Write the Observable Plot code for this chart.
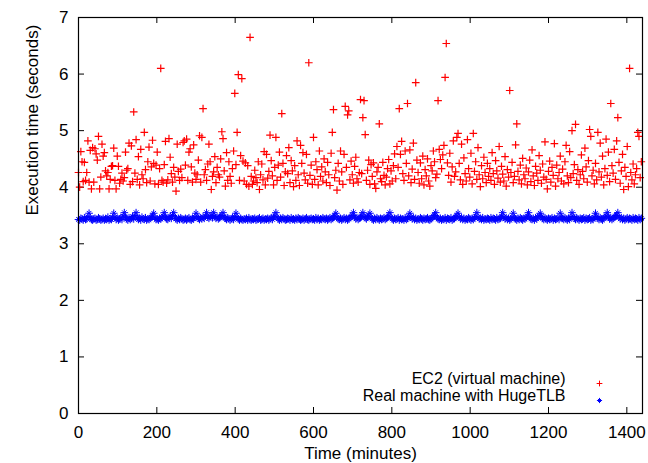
<!DOCTYPE html>
<html>
<head>
<meta charset="utf-8">
<script src="https://cdn.jsdelivr.net/npm/d3@7"></script>
<script src="https://cdn.jsdelivr.net/npm/@observablehq/plot@0.6"></script>
<style>
  html, body { margin: 0; padding: 0; background: #fff; }
  #chart svg { display: block; font-family: "Liberation Sans", Arial, sans-serif; }
</style>
</head>
<body>
<div id="chart"></div>
<script>
// Measurement schedule: one run every 3 minutes over 24 hours
const sampleIntervalMin = 3;
const xTicks = [0, 200, 400, 600, 800, 1000, 1200, 1400];
const yTicks = [0, 1, 2, 3, 4, 5, 6, 7];
const seriesNames = ["EC2 (virtual machine)", "Real machine with HugeTLB"];
const xLabel = "Time (minutes)";
const yLabel = "Execution time (seconds)";

// EC2 (virtual machine) execution times (seconds)
const ec2Times = [
  4.26,4.00,4.63,4.45,4.10,4.44,4.12,4.26,4.82,4.09,
  4.65,3.97,4.70,4.09,4.68,4.59,4.48,4.90,3.97,4.18,
  4.76,4.55,4.61,4.29,4.20,4.26,3.97,4.14,4.37,4.38,
  4.69,4.12,3.97,4.55,4.37,4.07,4.14,4.25,4.11,4.17,
  4.62,4.30,4.33,4.78,4.05,4.73,4.10,5.33,4.25,4.84,
  4.14,4.54,4.04,4.67,4.22,4.15,4.97,4.31,4.08,4.45,
  4.71,4.11,4.36,4.83,4.42,4.06,4.39,4.62,4.05,4.33,
  6.10,4.12,4.09,4.40,4.81,4.07,4.13,4.86,4.53,4.24,
  4.09,4.35,4.18,3.93,4.76,4.28,4.12,4.32,4.17,4.79,
  4.82,4.39,4.85,4.12,4.62,4.68,4.36,4.09,4.75,4.25,
  4.14,4.22,4.48,4.91,4.09,4.88,5.39,4.22,4.31,4.12,
  4.41,4.76,4.45,3.96,4.19,4.27,4.54,4.08,4.35,4.22,
  4.18,4.50,4.98,4.86,4.29,4.02,4.61,4.12,4.45,4.19,
  4.07,4.33,4.64,5.66,4.40,4.97,5.99,4.12,4.56,5.92,
  4.46,4.11,4.43,4.05,4.38,4.02,6.65,4.19,4.05,4.11,
  4.30,4.17,4.08,4.45,3.96,4.22,4.41,4.13,4.63,4.04,
  4.58,4.16,4.28,4.92,4.47,4.20,4.04,4.35,4.88,4.12,
  4.39,4.62,4.18,5.30,4.42,4.03,4.27,4.56,4.24,4.70,
  4.08,4.47,4.29,4.01,4.38,4.12,4.82,4.22,4.03,4.74,
  4.42,4.61,4.25,4.13,4.58,4.07,6.20,4.21,4.39,4.05,
  4.88,4.14,4.45,4.31,4.04,4.64,4.19,4.36,4.11,4.50,
  4.27,4.08,4.44,4.22,4.03,4.60,4.97,5.37,4.17,4.30,
  3.95,4.42,4.11,4.64,4.27,4.05,4.58,5.43,4.35,5.28,
  5.35,4.13,4.46,4.22,4.07,4.37,4.53,4.15,4.09,4.26,
  5.55,4.24,5.23,5.53,4.93,4.12,4.30,4.48,4.05,4.40,
  4.19,4.43,4.06,3.98,4.27,4.35,5.12,4.15,4.10,4.44,
  4.21,4.04,4.18,4.33,4.49,4.06,4.29,4.11,4.38,4.59,
  4.15,4.72,4.35,5.39,4.58,4.81,4.24,4.12,4.64,4.42,
  5.48,4.20,4.66,4.08,4.32,4.78,4.14,5.85,4.48,4.26,
  4.07,4.43,4.15,4.55,4.04,4.31,4.20,4.50,4.11,4.02,
  4.38,4.29,4.64,4.45,4.17,4.23,5.53,4.67,4.49,4.33,
  4.57,4.74,5.94,6.54,4.43,4.21,4.60,4.09,4.36,4.82,
  4.19,4.27,4.88,4.95,4.42,4.13,4.76,4.05,4.52,4.24,
  4.11,4.84,4.33,4.18,4.60,4.06,4.95,4.28,4.45,4.14,
  4.70,4.22,4.01,4.38,4.15,4.53,4.26,4.08,4.42,4.19,
  4.33,4.12,4.61,4.24,4.05,4.47,4.29,4.16,4.72,4.09,
  4.37,4.23,4.11,4.54,4.02,4.31,4.18,5.71,4.26,4.44,
  4.08,4.19,4.75,5.12,4.28,4.13,4.39,4.06,4.51,4.22,
  4.15,4.34,4.04,4.27,4.48,4.10,4.66,4.20,4.03,4.37,
  4.25,4.12,4.56,4.30,4.07,4.41,4.18,4.80,4.14,3.97,
  4.28,4.46,4.09,4.35,4.21,4.77,4.02,4.39,4.15,4.26,
  4.55,4.11,4.32,4.06,4.45,4.74,4.20,4.08,4.63,4.17,
  5.00,4.24,4.40,5.11,4.12,4.31,4.05,4.22,4.57,4.28,
  4.15,4.69,4.36,4.09,4.47,5.02,4.90,4.20,4.30,4.06,
  4.42,4.13,4.97,4.27,4.78,4.18,4.55,4.04,4.33,4.85,
  4.21,4.62,4.10,5.48,4.38,4.25,4.67,4.14,4.82,5.23,
  4.44,4.07,4.29,4.58,3.96,4.35,4.19,4.72,4.01,6.10,
  4.26,4.13,4.41,4.06,4.22,4.33,4.97,4.90,4.17,4.45
];

// Real machine with HugeTLB execution times (seconds)
const realTimes = [
  3.43,3.42,3.45,3.44,3.42,3.46,3.43,3.44,3.48,3.54,
  3.46,3.43,3.42,3.44,3.45,3.42,3.43,3.46,3.44,3.42,
  3.43,3.45,3.42,3.44,3.43,3.47,3.42,3.44,3.43,3.46,
  3.54,3.47,3.43,3.45,3.42,3.44,3.46,3.43,3.49,3.55,
  3.47,3.44,3.42,3.46,3.43,3.45,3.48,3.44,3.50,3.55,
  3.46,3.43,3.45,3.42,3.47,3.44,3.43,3.46,3.42,3.44,
  3.43,3.45,3.47,3.49,3.54,3.46,3.43,3.44,3.42,3.45,
  3.44,3.46,3.49,3.55,3.47,3.44,3.43,3.46,3.48,3.45,
  3.50,3.55,3.47,3.44,3.42,3.45,3.43,3.46,3.44,3.42,
  3.43,3.45,3.42,3.44,3.46,3.43,3.42,3.45,3.44,3.47,
  3.54,3.48,3.45,3.43,3.46,3.44,3.47,3.45,3.49,3.55,
  3.47,3.45,3.48,3.50,3.46,3.55,3.48,3.45,3.47,3.44,
  3.46,3.48,3.50,3.55,3.47,3.45,3.43,3.46,3.44,3.42,
  3.44,3.46,3.43,3.48,3.54,3.47,3.44,3.42,3.45,3.43,
  3.42,3.44,3.43,3.45,3.42,3.46,3.43,3.42,3.44,3.43,
  3.45,3.42,3.43,3.44,3.46,3.42,3.43,3.45,3.42,3.44,
  3.43,3.45,3.42,3.44,3.46,3.43,3.47,3.49,3.55,3.47,
  3.44,3.42,3.45,3.43,3.46,3.44,3.42,3.43,3.45,3.44,
  3.42,3.46,3.43,3.44,3.42,3.45,3.43,3.46,3.44,3.42,
  3.43,3.45,3.42,3.44,3.46,3.43,3.42,3.44,3.45,3.43,
  3.44,3.42,3.46,3.43,3.45,3.42,3.44,3.43,3.46,3.44,
  3.43,3.45,3.42,3.44,3.46,3.43,3.45,3.47,3.49,3.54,
  3.47,3.44,3.43,3.45,3.42,3.44,3.46,3.43,3.45,3.42,
  3.44,3.46,3.48,3.50,3.55,3.47,3.44,3.46,3.43,3.45,
  3.47,3.49,3.55,3.48,3.46,3.44,3.47,3.49,3.54,3.47,
  3.44,3.42,3.45,3.43,3.46,3.44,3.42,3.45,3.43,3.44,
  3.46,3.43,3.45,3.47,3.49,3.55,3.47,3.44,3.42,3.45,
  3.43,3.44,3.46,3.42,3.45,3.43,3.44,3.42,3.46,3.43,
  3.45,3.48,3.54,3.47,3.44,3.46,3.43,3.45,3.42,3.44,
  3.43,3.46,3.44,3.42,3.45,3.43,3.44,3.46,3.43,3.42,
  3.44,3.46,3.49,3.50,3.55,3.47,3.44,3.43,3.45,3.42,
  3.44,3.43,3.46,3.42,3.45,3.44,3.43,3.46,3.42,3.44,
  3.45,3.47,3.49,3.54,3.47,3.44,3.46,3.43,3.45,3.42,
  3.44,3.43,3.46,3.44,3.42,3.45,3.43,3.46,3.48,3.55,
  3.47,3.44,3.45,3.43,3.46,3.42,3.44,3.43,3.45,3.44,
  3.42,3.46,3.43,3.45,3.44,3.42,3.46,3.43,3.44,3.45,
  3.48,3.55,3.47,3.44,3.46,3.43,3.45,3.42,3.44,3.47,
  3.54,3.46,3.44,3.42,3.45,3.43,3.46,3.44,3.42,3.45,
  3.44,3.46,3.49,3.55,3.47,3.44,3.43,3.45,3.42,3.46,
  3.44,3.47,3.49,3.54,3.48,3.45,3.43,3.46,3.44,3.42,
  3.45,3.43,3.44,3.46,3.42,3.45,3.43,3.44,3.46,3.43,
  3.54,3.47,3.45,3.43,3.46,3.44,3.42,3.45,3.43,3.47,
  3.55,3.48,3.45,3.43,3.46,3.44,3.42,3.45,3.43,3.44,
  3.46,3.42,3.45,3.43,3.44,3.46,3.42,3.44,3.43,3.47,
  3.54,3.48,3.45,3.43,3.46,3.44,3.42,3.45,3.47,3.49,
  3.55,3.47,3.44,3.46,3.43,3.45,3.47,3.49,3.50,3.55,
  3.47,3.44,3.46,3.43,3.45,3.42,3.44,3.46,3.43,3.45,
  3.44,3.42,3.46,3.43,3.45,3.44,3.42,3.46,3.43,3.45
];

const ec2 = ec2Times.map((v, i) => ({t: i * sampleIntervalMin, v}));
const real = realTimes.map((v, i) => ({t: i * sampleIntervalMin, v}));

const W = 648, H = 463;
const mL = 78, mR = 6, mT = 17, mB = 50;
const fw = W - mL - mR, fh = H - mT - mB;
const tickLen = 6;
const fontSize = 17;
const legendFontSize = 16;
const fmt = d => String(d);

// gnuplot-style "*" point = plus + times overlaid
const starMarks = (data, opts) => [
  Plot.dot(data, {...opts, symbol: "plus"}),
  Plot.dot(data, {...opts, symbol: "times", r: opts.r * 0.85})
];

const chart = Plot.plot({
  width: W,
  height: H,
  marginLeft: mL,
  marginRight: mR,
  marginTop: mT,
  marginBottom: mB,
  style: {fontFamily: '"Liberation Sans", Arial, sans-serif', fontSize: fontSize + "px", background: "#fff", color: "#000"},
  x: {domain: [0, 1440]},
  y: {domain: [0, 7]},
  marks: [
    // inward ticks on all four sides
    Plot.tickY(yTicks, {y: d => d, insetRight: fw - tickLen, stroke: "#000", strokeWidth: 1}),
    Plot.tickY(yTicks, {y: d => d, insetLeft: fw - tickLen, stroke: "#000", strokeWidth: 1}),
    Plot.tickX(xTicks, {x: d => d, insetTop: fh - tickLen, stroke: "#000", strokeWidth: 1}),
    Plot.tickX(xTicks, {x: d => d, insetBottom: fh - tickLen, stroke: "#000", strokeWidth: 1}),
    Plot.axisX({ticks: xTicks, tickFormat: fmt, tickSize: 0, tickPadding: 12, fontSize: fontSize, label: null}),
    Plot.axisY({ticks: yTicks, tickFormat: fmt, tickSize: 0, tickPadding: 10, fontSize: fontSize, label: null}),
    Plot.text([xLabel], {text: d => d, frameAnchor: "bottom", dy: 45, fontSize: fontSize, fill: "#000"}),
    Plot.text([yLabel], {text: d => d, frameAnchor: "left", dx: -46, rotate: -90, fontSize: fontSize, fill: "#000"}),
    Plot.dot(ec2, {x: "t", y: "v", symbol: "plus", stroke: "#ff0000", r: 2.6, strokeWidth: 1.2}),
    ...starMarks(real, {x: "t", y: "v", stroke: "#0000ff", r: 2.6, strokeWidth: 1}),
    // legend (inside, bottom right)
    Plot.text([seriesNames[0]], {text: d => d, frameAnchor: "bottom-right", dx: -77, dy: -30, textAnchor: "end", fontSize: legendFontSize, fill: "#000"}),
    Plot.text([seriesNames[1]], {text: d => d, frameAnchor: "bottom-right", dx: -77, dy: -13, textAnchor: "end", fontSize: legendFontSize, fill: "#000"}),
    Plot.dot([seriesNames[0]], {frameAnchor: "bottom-right", dx: -43, dy: -30, symbol: "plus", stroke: "#ff0000", r: 2.0, strokeWidth: 1}),
    ...starMarks([seriesNames[1]], {frameAnchor: "bottom-right", dx: -43, dy: -13, stroke: "#0000ff", r: 1.8, strokeWidth: 1}),
    Plot.frame({stroke: "#000", strokeWidth: 1.2})
  ]
});

document.getElementById("chart").appendChild(chart);
</script>
</body>
</html>
